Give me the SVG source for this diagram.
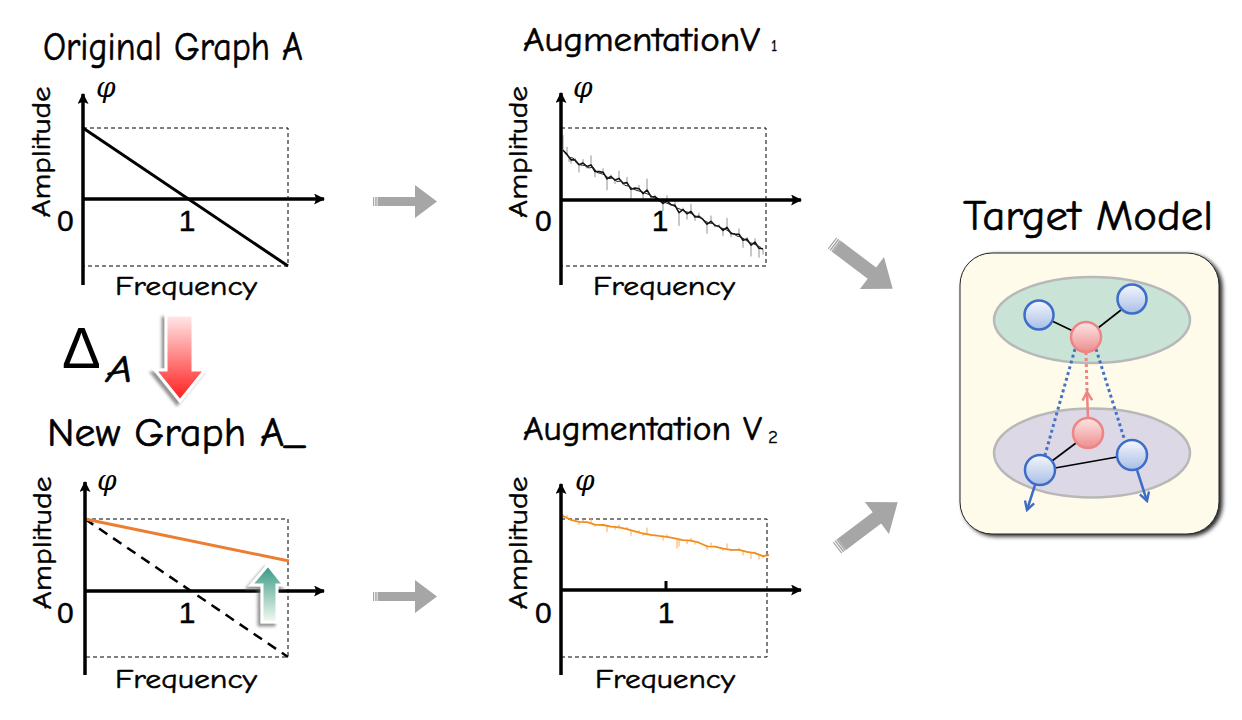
<svg xmlns="http://www.w3.org/2000/svg" width="1242" height="720" viewBox="0 0 1242 720">
<style>
.ttl{font-family:"Comic Sans MS","Comic Neue","Liberation Sans",sans-serif;fill:#000;stroke:#000;stroke-width:0.6}
.lab{font-family:"Comic Sans MS","Comic Neue","Liberation Sans",sans-serif;font-size:27px;fill:#000;stroke:#000;stroke-width:0.5}
.num{font-family:"Liberation Sans",Arial,sans-serif;font-size:30px;fill:#000;stroke:#000;stroke-width:0.4}
.phi{font-family:"DejaVu Serif","Liberation Serif",serif;font-style:italic;font-size:28px;fill:#000}
.delta{font-family:"Liberation Sans",Arial,sans-serif;font-size:58px;fill:#000}
.axis{stroke:#000;stroke-width:3.5;fill:none}
.box{stroke:#000;stroke-width:1;stroke-dasharray:4 3;fill:none}
.garrow{fill:#a6a6a6}
.node-b{fill:url(#gb);stroke:#3d6cc9;stroke-width:2.5}
.node-r{fill:url(#gr);stroke:#ee8484;stroke-width:2.5}
.edge{stroke:#000;stroke-width:1.6}
</style>
<defs>
<marker id="ah" viewBox="0 0 10 10" refX="9" refY="5" markerWidth="11" markerHeight="11" markerUnits="userSpaceOnUse" orient="auto"><path d="M0,0 L10,5 L0,10 L2,5 z" fill="#000"/></marker>
<marker id="chb" viewBox="0 0 10 10" refX="8" refY="5" markerWidth="12" markerHeight="12" markerUnits="userSpaceOnUse" orient="auto"><path d="M1,1 L8,5 L1,9" fill="none" stroke="#3d6cc9" stroke-width="2"/></marker>
<marker id="chr" viewBox="0 0 10 10" refX="8" refY="5" markerWidth="12" markerHeight="12" markerUnits="userSpaceOnUse" orient="auto"><path d="M1,1 L8,5 L1,9" fill="none" stroke="#ee8484" stroke-width="2"/></marker>
<linearGradient id="gb" x1="0" y1="0" x2="0" y2="1"><stop offset="0" stop-color="#f5f7fd"/><stop offset="1" stop-color="#a8bee6"/></linearGradient>
<linearGradient id="gr" x1="0" y1="0" x2="0" y2="1"><stop offset="0" stop-color="#fde6e6"/><stop offset="1" stop-color="#ee8d8d"/></linearGradient>
<linearGradient id="gred" x1="0" y1="0" x2="0" y2="1"><stop offset="0" stop-color="#ffeaea"/><stop offset="1" stop-color="#ff1a1a"/></linearGradient>
<linearGradient id="gteal" x1="0" y1="0" x2="0" y2="1"><stop offset="0" stop-color="#34977f"/><stop offset="1" stop-color="#f4faf2"/></linearGradient>
<filter id="ash" x="-40%" y="-20%" width="180%" height="150%"><feDropShadow dx="-3" dy="3" stdDeviation="1.5" flood-color="#666" flood-opacity="0.7"/></filter>
<filter id="bsh" x="-10%" y="-10%" width="125%" height="125%"><feDropShadow dx="3" dy="2" stdDeviation="2" flood-color="#000" flood-opacity="0.85"/></filter>
</defs>
<rect width="1242" height="720" fill="#fff"/>

<g id="panel-original">
<text class="ttl" x="43" y="60" font-size="40" textLength="260" lengthAdjust="spacingAndGlyphs">Original Graph A</text>
<rect class="box" x="83" y="128" width="205" height="138"/>
<line class="axis" x1="83" y1="285" x2="83" y2="94" marker-end="url(#ah)"/>
<line class="axis" x1="83" y1="199" x2="324" y2="199" marker-end="url(#ah)"/>
<line x1="83" y1="128" x2="288" y2="266" stroke="#000" stroke-width="3"/>
<text class="phi" x="96" y="97">φ</text>
<text class="lab" transform="translate(50,152) rotate(-90)" text-anchor="middle" textLength="131" lengthAdjust="spacingAndGlyphs">Amplitude</text>
<text class="num" x="57" y="231">0</text>
<text class="num" x="187" y="231" text-anchor="middle">1</text>
<text class="lab" x="115" y="295" textLength="142" lengthAdjust="spacingAndGlyphs">Frequency</text>
</g>

<g id="panel-v1">
<text class="ttl" x="523" y="51" font-size="35" textLength="237" lengthAdjust="spacingAndGlyphs">AugmentationV</text>
<text class="ttl" x="771" y="51" font-size="16" style="stroke-width:0.3">1</text>
<rect class="box" x="561" y="128" width="205" height="138"/>
<path d="M563,150.2V135 M567,154.4V146.8 M569,156V162 M571,159.9V163.7 M575,159.9V158 M579,164.8V172.4 M583,163V159.2 M587,166.6V168.5 M591,164.9V155.4 M595,171.5V177.2 M603,172.2V168.4 M607,178.8V190.2 M611,176.5V174.6 M615,180.1V183.9 M619,178.4V170.8 M623,183.2V185.1 M627,182.6V176.9 M631,189.3V198.8 M639,188.8V185 M643,193.6V199.3 M647,190V178.6 M651,196.7V200.5 M655,196.7V194.8 M659,199.8V201.7 M663,203.4V211 M667,201V195.3 M675,205.3V201.5 M679,212.6V225.9 M683,209.6V207.7 M687,213.8V219.5 M691,211.5V203.9 M695,216.9V220.7 M699,216.4V212.6 M707,224.2V233.7 M711,221.3V215.6 M715,225.5V227.4 M719,226.2V224.3 M723,230.4V236.1 M727,227.4V217.9 M731,233.5V237.3 M739,234.2V228.5 M743,240.2V247.8 M747,239V237.1 M751,245.1V256.5 M755,242.1V238.3 M759,248.2V257.7 M763,248.8V254.5" stroke="#777" stroke-width="0.8" fill="none"/>
<polyline points="563,150.2 567,154.4 571,159.9 575,159.9 579,164.8 583,163 587,166.6 591,164.9 595,171.5 599,171.6 603,172.2 607,178.8 611,176.5 615,180.1 619,178.4 623,183.2 627,182.6 631,189.3 635,188.1 639,188.8 643,193.6 647,190 651,196.7 655,196.7 659,199.8 663,203.4 667,201 671,204.7 675,205.3 679,212.6 683,209.6 687,213.8 691,211.5 695,216.9 699,216.4 703,219.4 707,224.2 711,221.3 715,225.5 719,226.2 723,230.4 727,227.4 731,233.5 735,234.1 739,234.2 743,240.2 747,239 751,245.1 755,242.1 759,248.2 763,248.8" stroke="#111" stroke-width="1.6" fill="none" stroke-linejoin="round"/>
<polyline points="565,153 569,157.5 573,158 577,163.5 581,165 585,165.5 589,168 593,167 597,172.5 601,173.5 605,175 609,178.5 613,178 617,181.5 621,181 625,185.5 629,186 633,189 637,190.5 641,191.5 645,193 649,194.5 653,197 657,199.5 661,200 665,202.5 669,204 673,205.5 677,208 681,209.5 685,211.5 689,212.5 693,214.5 697,217 701,218 705,221 709,223 713,223.5 717,226 721,228 725,229 729,231.5 733,233.5 737,236 741,237 745,239.5 749,242.5 753,243.5 757,245.5 761,247.5" stroke="#222" stroke-width="1" fill="none"/>
<line class="axis" x1="561" y1="285" x2="561" y2="93" marker-end="url(#ah)"/>
<line class="axis" x1="561" y1="200" x2="801" y2="200" marker-end="url(#ah)"/>
<text class="phi" x="573" y="97">φ</text>
<text class="lab" transform="translate(527,152) rotate(-90)" text-anchor="middle" textLength="132" lengthAdjust="spacingAndGlyphs">Amplitude</text>
<text class="num" x="535" y="231">0</text>
<text class="num" x="660" y="231" text-anchor="middle">1</text>
<text class="lab" x="593" y="295" textLength="142" lengthAdjust="spacingAndGlyphs">Frequency</text>
</g>

<g id="panel-new">
<text class="ttl" x="47" y="446" font-size="40" textLength="258" lengthAdjust="spacingAndGlyphs">New Graph A_</text>
<text class="delta" x="62" y="368">Δ</text>
<text class="ttl" x="106" y="382" font-size="38" font-style="italic" textLength="27" lengthAdjust="spacingAndGlyphs">A</text>
<rect class="box" x="85" y="519" width="203" height="138"/>
<line x1="85" y1="519" x2="288" y2="657" stroke="#000" stroke-width="2.5" stroke-dasharray="10 7"/>
<line x1="85" y1="519" x2="289" y2="561" stroke="#ed7d31" stroke-width="3"/>
<line class="axis" x1="85" y1="675" x2="85" y2="482" marker-end="url(#ah)"/>
<line class="axis" x1="85" y1="591" x2="324" y2="591" marker-end="url(#ah)"/>
<text class="phi" x="97" y="490">φ</text>
<text class="lab" transform="translate(51,543) rotate(-90)" text-anchor="middle" textLength="133" lengthAdjust="spacingAndGlyphs">Amplitude</text>
<text class="num" x="57" y="623">0</text>
<text class="num" x="187" y="623" text-anchor="middle">1</text>
<text class="lab" x="115" y="688" textLength="142" lengthAdjust="spacingAndGlyphs">Frequency</text>
</g>

<g id="panel-v2">
<text class="ttl" x="523" y="440" font-size="35" textLength="239" lengthAdjust="spacingAndGlyphs">Augmentation V</text>
<text class="ttl" x="768" y="443" font-size="19" style="stroke-width:0.3">2</text>
<rect class="box" x="561" y="519" width="206" height="138"/>
<path d="M563,518V514 M567,518.7V514.7 M571,519.5V521.5 M579,521V525 M583,521.7V519.7 M591,523.2V518.2 M595,524V527 M603,525.5V523.5 M607,526.2V532.2 M615,527.7V529.7 M619,528.4V524.4 M627,529.9V526.9 M631,530.7V535.7 M639,532.2V530.2 M643,532.9V535.9 M647,533.6V527.6 M651,534.4V536.4 M663,536.6V540.6 M667,537.4V534.4 M677,539.4V548.6 M679,539.6V546.6 M687,541.1V544.1 M691,541.8V537.8 M695,542.6V544.6 M707,544.8V549.8 M711,545.6V542.6 M723,547.8V550.8 M727,548.5V543.5 M731,549.3V551.3 M739,550.8V547.8 M743,551.5V555.5 M751,553V559 M755,553.8V551.8 M759,554.5V559.5 M763,555.3V558.3" stroke="#f8ad55" stroke-width="1" fill="none"/>
<polyline points="563,516 571,519.8 579,521.8 587,522.2 595,524.6 603,525 611,526.6 619,527.4 627,529.1 635,531.4 643,533.5 651,534.8 659,535.9 667,536.8 675,538.3 683,540.1 691,540.6 699,542.7 707,546.3 715,546.6 723,548.7 731,549.9 739,549.9 747,551.9 755,553.2 763,556.2 769,555" stroke="#f28c1a" stroke-width="1.8" fill="none" stroke-linejoin="round"/>
<line class="axis" x1="561" y1="675" x2="561" y2="484" marker-end="url(#ah)"/>
<line class="axis" x1="561" y1="590" x2="801" y2="590" marker-end="url(#ah)"/>
<line x1="666" y1="581" x2="666" y2="590" stroke="#000" stroke-width="3"/>
<text class="phi" x="575" y="490">φ</text>
<text class="lab" transform="translate(527,543) rotate(-90)" text-anchor="middle" textLength="133" lengthAdjust="spacingAndGlyphs">Amplitude</text>
<text class="num" x="535" y="623">0</text>
<text class="num" x="666" y="623" text-anchor="middle">1</text>
<text class="lab" x="595" y="688" textLength="140" lengthAdjust="spacingAndGlyphs">Frequency</text>
</g>

<g id="target-model">
<text class="ttl" x="963" y="230" font-size="43" textLength="250" lengthAdjust="spacingAndGlyphs">Target Model</text>
<rect x="960" y="253" width="259" height="281" rx="32" fill="#fefbeb" stroke="#222" stroke-width="1" filter="url(#bsh)"/>
<ellipse cx="1092" cy="320" rx="98" ry="43" fill="#c9e4d6" stroke="#b8b8b8" stroke-width="2.5"/>
<ellipse cx="1092" cy="453" rx="98" ry="44.5" fill="#dcd8e6" stroke="#b8b8b8" stroke-width="2.5"/>
<line class="edge" x1="1052" y1="321" x2="1073" y2="331"/>
<line class="edge" x1="1121" y1="310" x2="1098" y2="328"/>
<line class="edge" x1="1052" y1="461" x2="1076" y2="443"/>
<line class="edge" x1="1055" y1="468" x2="1117" y2="457"/>
<line x1="1075" y1="349" x2="1045" y2="455" stroke="#4472c4" stroke-width="3" stroke-dasharray="3 3"/>
<line x1="1096" y1="349" x2="1124" y2="438" stroke="#4472c4" stroke-width="3" stroke-dasharray="3 3"/>
<line x1="1086" y1="352" x2="1087" y2="391" stroke="#ee8484" stroke-width="3" stroke-dasharray="3 3"/>
<line x1="1088" y1="418" x2="1087" y2="392" stroke="#ee8484" stroke-width="2.5" marker-end="url(#chr)"/>
<line x1="1035" y1="485" x2="1027" y2="510" stroke="#3d6cc9" stroke-width="2.5" marker-end="url(#chb)"/>
<line x1="1137" y1="470" x2="1147" y2="501" stroke="#3d6cc9" stroke-width="2.5" marker-end="url(#chb)"/>
<circle class="node-b" cx="1039" cy="315" r="14.5"/>
<circle class="node-b" cx="1132" cy="299" r="14.5"/>
<circle class="node-r" cx="1086" cy="337" r="15"/>
<circle class="node-r" cx="1088" cy="433" r="15"/>
<circle class="node-b" cx="1040" cy="470" r="15"/>
<circle class="node-b" cx="1132" cy="455" r="15"/>
</g>

<g id="connectors">
<g class="garrow">
<polygon points="379,197 415,197 415,185 437,201.5 415,218 415,206 379,206"/>
<rect x="373" y="197" width="1.2" height="9"/><rect x="375.2" y="197" width="1.5" height="9"/><rect x="377.5" y="197" width="1.5" height="9"/>
<polygon points="379,592 415,592 415,580 437,596.5 415,613 415,601 379,601"/>
<rect x="373" y="592" width="1.2" height="9"/><rect x="375.2" y="592" width="1.5" height="9"/><rect x="377.5" y="592" width="1.5" height="9"/>
<g transform="translate(832,243) rotate(37)">
<polygon points="6,-7 50,-7 50,-20 76,0 50,20 50,7 6,7"/>
<rect x="0" y="-7" width="1.2" height="14"/><rect x="2.2" y="-7" width="1.5" height="14"/><rect x="4.4" y="-7" width="1.5" height="14"/>
</g>
<g transform="translate(837,548) rotate(-37)">
<polygon points="6,-7 50,-7 50,-20 76,0 50,20 50,7 6,7"/>
<rect x="0" y="-7" width="1.2" height="14"/><rect x="2.2" y="-7" width="1.5" height="14"/><rect x="4.4" y="-7" width="1.5" height="14"/>
</g>
</g>
<polygon points="166,315 193,315 193,370 205,370 180,401 155,370 166,370" fill="url(#gred)" stroke="#fff" stroke-width="3" filter="url(#ash)"/>
<polygon points="262,622 277,622 277,585 284,585 268,565 251,585 262,585" fill="url(#gteal)" stroke="#fff" stroke-width="3" filter="url(#ash)"/>
</g>
</svg>
